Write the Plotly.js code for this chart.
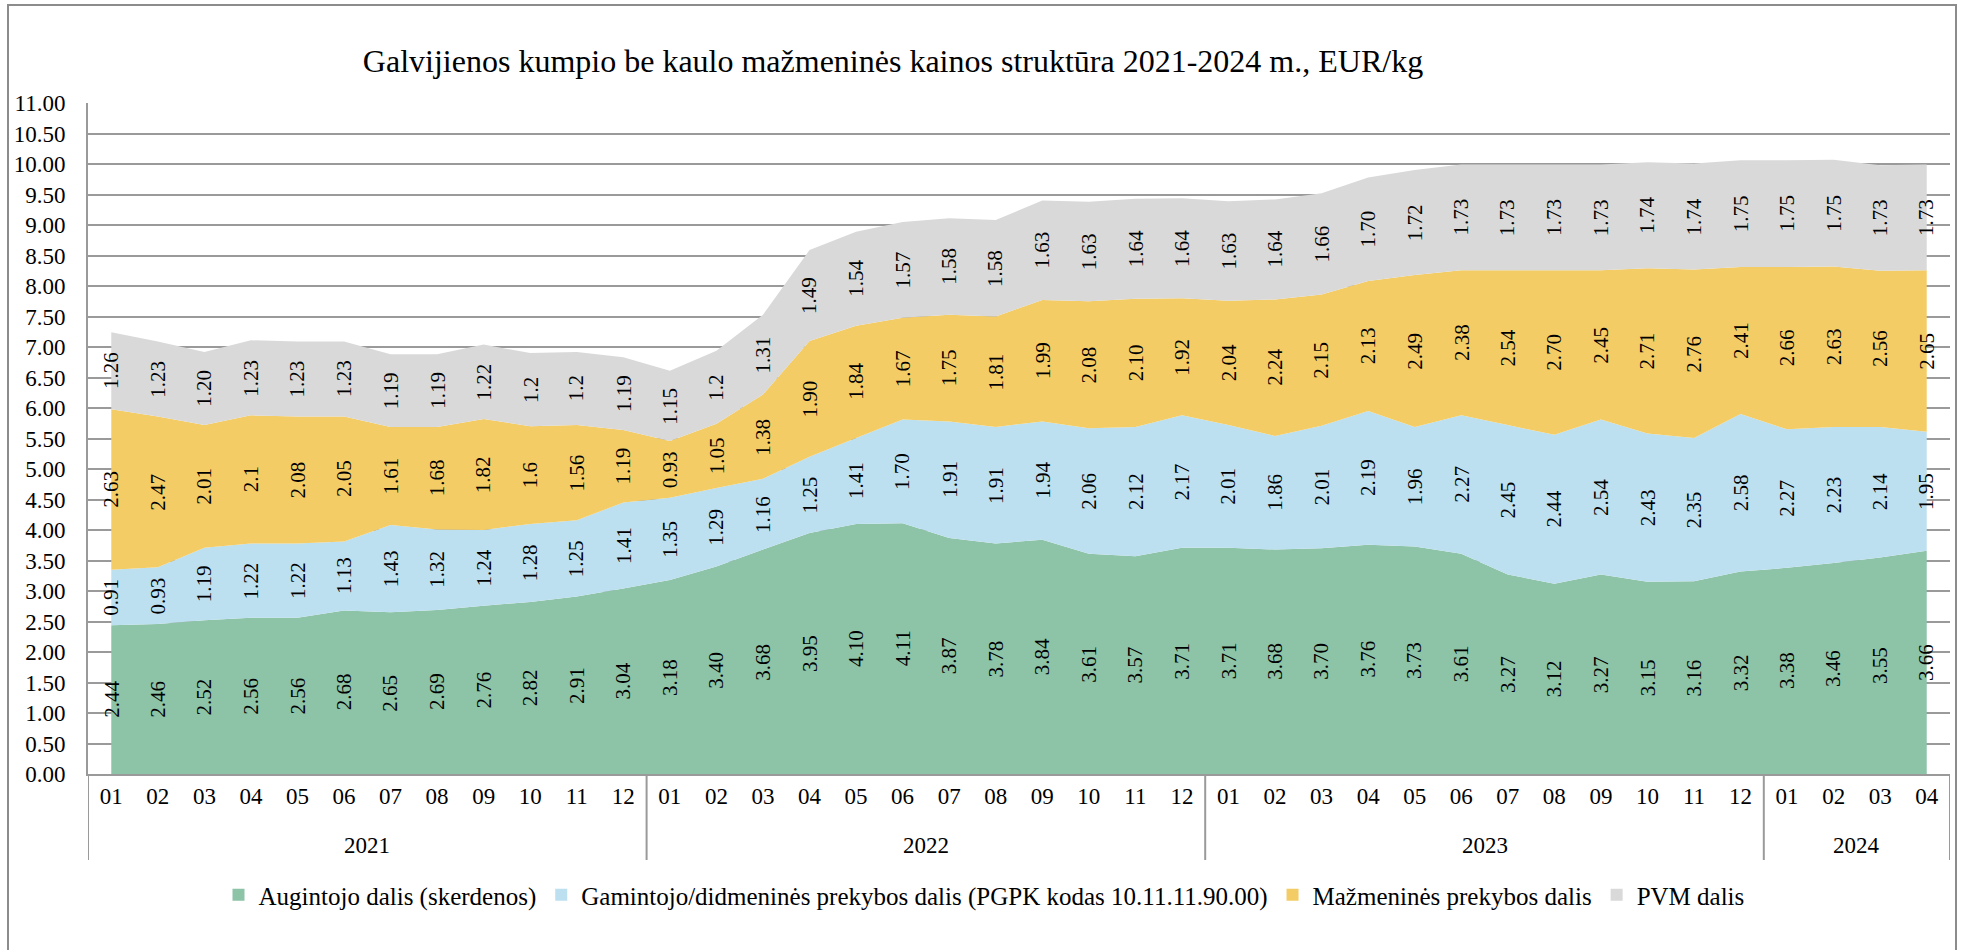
<!DOCTYPE html>
<html>
<head>
<meta charset="utf-8">
<script src="https://cdn.plot.ly/plotly-3.0.1.min.js"></script>
<style>
  html, body { margin: 0; padding: 0; background: #ffffff; }
  #chart { width: 1964px; height: 950px; }
</style>
</head>
<body>
<div id="chart"></div>
<script>
// ---- Data ----
const yearLabels = [
  '2021','2021','2021','2021','2021','2021','2021','2021','2021','2021','2021','2021',
  '2022','2022','2022','2022','2022','2022','2022','2022','2022','2022','2022','2022',
  '2023','2023','2023','2023','2023','2023','2023','2023','2023','2023','2023','2023',
  '2024','2024','2024','2024'
];
const monthLabels = [
  '01','02','03','04','05','06','07','08','09','10','11','12',
  '01','02','03','04','05','06','07','08','09','10','11','12',
  '01','02','03','04','05','06','07','08','09','10','11','12',
  '01','02','03','04'
];

// Values as shown in the data labels (EUR/kg)
const augintojo = [
  '2.44','2.46','2.52','2.56','2.56','2.68','2.65','2.69','2.76','2.82','2.91','3.04',
  '3.18','3.40','3.68','3.95','4.10','4.11','3.87','3.78','3.84','3.61','3.57','3.71',
  '3.71','3.68','3.70','3.76','3.73','3.61','3.27','3.12','3.27','3.15','3.16','3.32',
  '3.38','3.46','3.55','3.66'
];
const gamintojo = [
  '0.91','0.93','1.19','1.22','1.22','1.13','1.43','1.32','1.24','1.28','1.25','1.41',
  '1.35','1.29','1.16','1.25','1.41','1.70','1.91','1.91','1.94','2.06','2.12','2.17',
  '2.01','1.86','2.01','2.19','1.96','2.27','2.45','2.44','2.54','2.43','2.35','2.58',
  '2.27','2.23','2.14','1.95'
];
const mazmenines = [
  '2.63','2.47','2.01','2.1','2.08','2.05','1.61','1.68','1.82','1.6','1.56','1.19',
  '0.93','1.05','1.38','1.90','1.84','1.67','1.75','1.81','1.99','2.08','2.10','1.92',
  '2.04','2.24','2.15','2.13','2.49','2.38','2.54','2.70','2.45','2.71','2.76','2.41',
  '2.66','2.63','2.56','2.65'
];
const pvm = [
  '1.26','1.23','1.20','1.23','1.23','1.23','1.19','1.19','1.22','1.2','1.2','1.19',
  '1.15','1.2','1.31','1.49','1.54','1.57','1.58','1.58','1.63','1.63','1.64','1.64',
  '1.63','1.64','1.66','1.70','1.72','1.73','1.73','1.73','1.73','1.74','1.74','1.75',
  '1.75','1.75','1.73','1.73'
];

const seriesNames = [
  'Augintojo dalis (skerdenos)',
  'Gamintojo/didmeninės prekybos dalis (PGPK kodas 10.11.11.90.00)',
  'Mažmeninės prekybos dalis',
  'PVM dalis'
];
const seriesLabels = [augintojo, gamintojo, mazmenines, pvm];
const seriesColors = ['#8dc3a7', '#bde0f0', '#f4cc66', '#d9d9d9'];

// ---- Geometry ----
const W = 1964, H = 950;
const M = { l: 88, r: 14, t: 103, b: 176 };
const pw = W - M.l - M.r, ph = H - M.t - M.b;
const px2paperX = p => (p - M.l) / pw;
const px2paperY = p => (H - M.b - p) / ph;
const FONT = 'Liberation Serif, Times New Roman, serif';
const GRID = '#9a9a9a';

// ---- Build traces ----
const xIdx = monthLabels.map((_, i) => i);
const traces = [];
const annotations = [];
const shapes = [];
const cumulative = new Array(monthLabels.length).fill(0);

seriesLabels.forEach((labels, s) => {
  const values = labels.map(Number);
  traces.push({
    type: 'scatter',
    x: xIdx,
    y: values,
    stackgroup: 'one',
    mode: 'none',
    fillcolor: seriesColors[s],
    line: { width: 0 },
    showlegend: false,
    hoverinfo: 'skip',
    name: seriesNames[s]
  });
  values.forEach((v, i) => {
    annotations.push({
      x: i,
      y: cumulative[i] + v / 2,
      xref: 'x',
      yref: 'y',
      text: labels[i],
      showarrow: false,
      textangle: -90,
      xanchor: 'center',
      yanchor: 'middle',
      font: { family: FONT, size: 21, color: '#000000' }
    });
    cumulative[i] += v;
  });
});

// Legend entries (square swatches)
seriesNames.forEach((name, s) => {
  traces.push({
    type: 'scatter',
    x: [null],
    y: [null],
    mode: 'markers',
    marker: { symbol: 'square', size: 12, color: seriesColors[s] },
    name: name,
    showlegend: true,
    hoverinfo: 'skip'
  });
});

// Year group labels and dividers of the two-level category axis
const groups = [];
yearLabels.forEach((y, i) => {
  const g = groups[groups.length - 1];
  if (g && g.year === y) g.end = i;
  else groups.push({ year: y, start: i, end: i });
});
groups.forEach((g, k) => {
  annotations.push({
    x: (g.start + g.end) / 2,
    y: px2paperY(845),
    xref: 'x',
    yref: 'paper',
    text: g.year,
    showarrow: false,
    xanchor: 'center',
    yanchor: 'middle',
    font: { family: FONT, size: 23, color: '#000000' }
  });
  const edges = k === 0 ? [g.start - 0.5, g.end + 0.5] : [g.end + 0.5];
  edges.forEach(xe => {
    shapes.push({
      type: 'line',
      xref: 'x', yref: 'paper',
      x0: xe, x1: xe,
      y0: 0, y1: px2paperY(860),
      line: { color: GRID, width: 2 },
      layer: 'above'
    });
  });
});

// Outer chart frame
shapes.push({
  type: 'rect',
  xref: 'paper', yref: 'paper',
  x0: px2paperX(8), x1: px2paperX(1956),
  y0: px2paperY(990), y1: px2paperY(5),
  line: { color: '#8c8c8c', width: 2 },
  fillcolor: 'rgba(0,0,0,0)',
  layer: 'below'
});

const layout = {
  width: W,
  height: H,
  margin: M,
  paper_bgcolor: '#ffffff',
  plot_bgcolor: '#ffffff',
  font: { family: FONT, color: '#000000', size: 22 },
  title: {
    text: 'Galvijienos kumpio be kaulo mažmeninės kainos struktūra 2021-2024 m., EUR/kg',
    font: { family: FONT, size: 32, color: '#000000' },
    xref: 'container',
    yref: 'container',
    x: 893 / W,
    y: 1 - 61 / H,
    xanchor: 'center',
    yanchor: 'middle'
  },
  showlegend: true,
  legend: {
    orientation: 'h',
    traceorder: 'normal',
    xref: 'container',
    yref: 'container',
    x: 984 / W,
    y: 1 - 895 / H,
    xanchor: 'center',
    yanchor: 'middle',
    font: { family: FONT, size: 25, color: '#000000' },
    bgcolor: 'rgba(0,0,0,0)',
    itemclick: false
  },
  xaxis: {
    type: 'linear',
    range: [-0.5, monthLabels.length - 0.5],
    tickmode: 'array',
    tickvals: xIdx,
    ticktext: monthLabels,
    showline: true,
    linecolor: GRID,
    linewidth: 2,
    showgrid: false,
    zeroline: false,
    ticks: '',
    tickfont: { family: FONT, size: 23, color: '#000000' },
    fixedrange: true
  },
  yaxis: {
    range: [0, 11],
    tick0: 0,
    dtick: 0.5,
    tickformat: '.2f',
    showline: true,
    linecolor: GRID,
    linewidth: 2,
    showgrid: true,
    gridcolor: GRID,
    gridwidth: 2,
    zeroline: false,
    ticks: '',
    ticklabelstandoff: 16,
    tickfont: { family: FONT, size: 23, color: '#000000' },
    fixedrange: true
  },
  annotations: annotations,
  shapes: shapes
};

Plotly.newPlot('chart', traces, layout, { displayModeBar: false, staticPlot: true });
</script>
</body>
</html>
